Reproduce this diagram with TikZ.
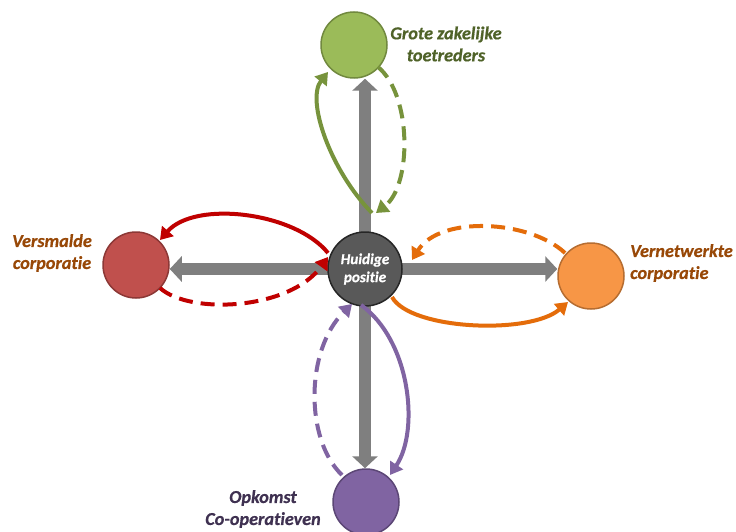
\documentclass[tikz,border=0pt]{standalone}
\usepackage{fontspec}
\setmainfont{Carlito}[Ligatures={NoCommon},BoldItalicFeatures={FakeBold=0.6}]
\usetikzlibrary{arrows.meta,backgrounds}
\definecolor{cgreen}{HTML}{9BBB59}\definecolor{cgreenb}{HTML}{71893F}
\definecolor{cred}{HTML}{C0504D}\definecolor{credb}{HTML}{8C3836}
\definecolor{corange}{HTML}{F79646}\definecolor{corangeb}{HTML}{B66D31}
\definecolor{cpurple}{HTML}{8064A2}\definecolor{cpurpleb}{HTML}{5C4776}
\definecolor{cgrey}{HTML}{595959}\definecolor{cgreyb}{HTML}{262626}
\definecolor{agreen}{HTML}{77933C}\definecolor{ared}{HTML}{C00000}
\definecolor{aorange}{HTML}{E46C0A}\definecolor{apurple}{HTML}{8064A2}
\definecolor{tgreen}{HTML}{4F6228}\definecolor{tbrown}{HTML}{984807}
\definecolor{tpurple}{HTML}{3F3151}\definecolor{arrgrey}{HTML}{7F7F7F}
\begin{document}
\begin{tikzpicture}[x=1pt,y=-1pt,
  circ/.style={circle,minimum size=66pt,inner sep=0pt,line width=1.5pt},
  lbl/.style={font=\fontsize{18.2}{22}\selectfont\bfseries\itshape,align=center,inner sep=0pt},
  greyarr/.style={draw=arrgrey,line width=12pt,-{Triangle[width=25pt,length=12pt]}},
  carr/.style={line width=4pt,-{Triangle[width=15pt,length=12pt]}},
  dsh/.style={dash pattern=on 14pt off 8pt}]
\useasboundingbox (0,0) rectangle (736,532);
\node[circ,fill=cgreen,draw=cgreenb] (G) at (354,45) {};
\node[circ,fill=cred,draw=credb] (R) at (136,265) {};
\node[circ,fill=corange,draw=corangeb] (O) at (591,276) {};
\node[circ,fill=cpurple,draw=cpurpleb] (P) at (366,502) {};
\node[circ,minimum size=74pt,fill=cgrey,draw=cgreyb,text=white,align=center,
  font=\fontsize{15.2}{18}\selectfont\bfseries\itshape] (C) at (365,269) {Huidige\\positie};
\begin{scope}[on background layer]
\fill[white] (0,0) rectangle (736,532);
\draw[greyarr] (C.center) -- (C.center |- G.south);
\draw[greyarr] (C.center) -- (C.center |- P.north);
\draw[greyarr] (C.center) -- (C.center -| R.east);
\draw[greyarr] (C.center) -- (C.center -| O.west);
\end{scope}
% labels
\node[lbl,text=tgreen] (LG) at (446,44) {Grote zakelijke\\toetreders};
\node[lbl,text=tbrown] (LR) at (52,253) {Versmalde\\corporatie};
\node[lbl,text=tbrown,anchor=west,align=left] (LO) at (630,263) {Vernetwerkte\\corporatie};
\node[lbl,text=tpurple] (LP) at (263,509) {Opkomst\\Co-operatieven};
% green
\draw[carr,draw=agreen] ([shift={(7,-56)}]C.center) .. controls (330,170) and (306,100) .. ([shift={(-26,27)}]G.center);
\draw[carr,dsh,draw=agreen] ([shift={(24,22)}]G.center) .. controls (412,95) and (412,185) .. ([shift={(11,-56)}]C.center);
% red
\draw[carr,draw=ared] ([shift={(-37,-16)}]C.center) .. controls (295,212) and (195,200) .. ([shift={(24,-25)}]R.center);
\draw[carr,dsh,draw=ared] ([shift={(24,23)}]R.center) .. controls (190,315) and (290,310) .. ([shift={(-37,-12)}]C.center);
% orange
\draw[carr,dsh,draw=aorange] ([shift={(-26,-23)}]O.center) .. controls (530,220) and (440,215) .. ([shift={(47,-9)}]C.center);
\draw[carr,draw=aorange] ([shift={(27,28)}]C.center) .. controls (410,330) and (530,335) .. ([shift={(-23,26)}]O.center);
% purple
\draw[carr,dsh,draw=apurple] ([shift={(-24,-27)}]P.center) .. controls (305,440) and (305,350) .. ([shift={(-13,35)}]C.center);
\draw[carr,draw=apurple] ([shift={(-4,36)}]C.center) .. controls (410,340) and (420,430) .. ([shift={(24,-27)}]P.center);
\end{tikzpicture}
\end{document}
